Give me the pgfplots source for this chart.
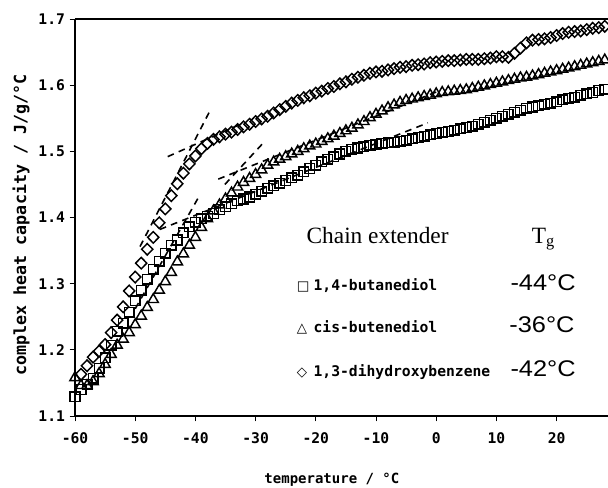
\documentclass[border=0pt]{standalone}
\usepackage{fontspec}
\setmainfont{Liberation Serif}
\setsansfont{Liberation Sans}
\setmonofont{DejaVu Sans Mono}
\newfontfamily\symfont{DejaVu Sans}
\usepackage{pgfplots}
\usepackage{pgfplotstable}
\pgfplotsset{compat=1.18}

% complex heat capacity (J/g/°C) versus temperature (°C)
\pgfplotstableread{
T C
-60 1.129
-59 1.140
-58 1.148
-57 1.157
-56 1.172
-55 1.188
-54 1.207
-53 1.228
-52 1.240
-51 1.257
-50 1.274
-49 1.290
-48 1.307
-47 1.322
-46 1.334
-45 1.346
-44 1.358
-43 1.366
-42 1.377
-41 1.386
-40 1.393
-39 1.398
-38 1.402
-37 1.406
-36 1.412
-35 1.416
-34 1.421
-33 1.425
-32 1.428
-31 1.431
-30 1.435
-29 1.440
-28 1.444
-27 1.448
-26 1.452
-25 1.456
-24 1.460
-23 1.464
-22 1.469
-21 1.474
-20 1.479
-19 1.484
-18 1.488
-17 1.492
-16 1.496
-15 1.500
-14 1.503
-13 1.505
-12 1.507
-11 1.509
-10 1.511
-9 1.512
-8 1.513
-7 1.514
-6 1.515
-5 1.517
-4 1.519
-3 1.521
-2 1.523
-1 1.525
0 1.527
1 1.529
2 1.530
3 1.532
4 1.534
5 1.536
6 1.538
7 1.541
8 1.544
9 1.547
10 1.550
11 1.553
12 1.556
13 1.559
14 1.562
15 1.565
16 1.567
17 1.569
18 1.571
19 1.573
20 1.575
21 1.578
22 1.580
23 1.582
24 1.585
25 1.587
26 1.589
27 1.592
28 1.594
}\butanediol

\pgfplotstableread{
T C
-60 1.158
-59 1.146
-58 1.146
-57 1.152
-56 1.164
-55 1.178
-54 1.193
-53 1.207
-52 1.216
-51 1.226
-50 1.238
-49 1.251
-48 1.264
-47 1.276
-46 1.290
-45 1.303
-44 1.317
-43 1.333
-42 1.345
-41 1.358
-40 1.370
-39 1.385
-38 1.398
-37 1.410
-36 1.419
-35 1.428
-34 1.437
-33 1.446
-32 1.453
-31 1.459
-30 1.465
-29 1.472
-28 1.479
-27 1.484
-26 1.488
-25 1.492
-24 1.496
-23 1.500
-22 1.504
-21 1.508
-20 1.511
-19 1.515
-18 1.519
-17 1.523
-16 1.527
-15 1.531
-14 1.535
-13 1.540
-12 1.545
-11 1.551
-10 1.556
-9 1.561
-8 1.566
-7 1.570
-6 1.574
-5 1.577
-4 1.579
-3 1.581
-2 1.583
-1 1.585
0 1.587
1 1.589
2 1.590
3 1.591
4 1.592
5 1.593
6 1.595
7 1.597
8 1.599
9 1.601
10 1.603
11 1.605
12 1.607
13 1.609
14 1.611
15 1.612
16 1.614
17 1.616
18 1.618
19 1.620
20 1.622
21 1.624
22 1.626
23 1.628
24 1.630
25 1.632
26 1.634
27 1.636
28 1.638
}\butenediol

\pgfplotstableread{
T C
-59 1.163
-58 1.176
-57 1.189
-56 1.198
-55 1.208
-54 1.226
-53 1.245
-52 1.265
-51 1.289
-50 1.310
-49 1.331
-48 1.352
-47 1.370
-46 1.392
-45 1.413
-44 1.433
-43 1.451
-42 1.467
-41 1.481
-40 1.493
-39 1.504
-38 1.512
-37 1.518
-36 1.522
-35 1.526
-34 1.529
-33 1.533
-32 1.537
-31 1.541
-30 1.545
-29 1.549
-28 1.553
-27 1.558
-26 1.563
-25 1.568
-24 1.573
-23 1.577
-22 1.581
-21 1.584
-20 1.588
-19 1.591
-18 1.595
-17 1.598
-16 1.602
-15 1.605
-14 1.609
-13 1.612
-12 1.615
-11 1.618
-10 1.620
-9 1.621
-8 1.623
-7 1.625
-6 1.627
-5 1.628
-4 1.630
-3 1.631
-2 1.632
-1 1.634
0 1.635
1 1.636
2 1.637
3 1.637
4 1.638
5 1.639
6 1.639
7 1.639
8 1.640
9 1.641
10 1.643
11 1.643
12 1.642
13 1.648
14 1.656
15 1.664
16 1.668
17 1.669
18 1.670
19 1.672
20 1.675
21 1.678
22 1.680
23 1.681
24 1.682
25 1.684
26 1.686
27 1.687
28 1.689
}\dihydroxybenzene

\begin{document}
\begin{tikzpicture}
\path[use as bounding box] (-56.25pt,-53.25pt) rectangle (399.75pt,312pt);
\begin{axis}[
  at={(0,0)}, anchor=south west,
  scale only axis, width=399.75pt, height=297.75pt,
  xmin=-60, xmax=28.54, ymin=1.1, ymax=1.7,
  clip=false,
  axis line style={draw=none},
  xtick={-60,-50,...,20}, ytick={1.1,1.2,...,1.71},
  xtick pos=bottom, ytick pos=left,
  tick align=outside, major tick length=4pt,
  tick style={black, line width=0.7pt},
  /pgf/number format/assume math mode=true,
  ticklabel style={font=\fontsize{11}{13}\selectfont\ttfamily\bfseries},
  yticklabel style={/pgf/number format/fixed, /pgf/number format/precision=1,
    /pgf/number format/fixed zerofill},
  xticklabel style={yshift=-5pt},
  xlabel={temperature / °C},
  ylabel={complex heat capacity / J/g/°C},
  xlabel style={at={(axis description cs:0.482,0)}, anchor=center, yshift=-48pt,
    font=\fontsize{10.5}{13}\selectfont\ttfamily\bfseries},
  ylabel style={at={(axis description cs:-0.1013,0.481)}, anchor=center,
    font=\fontsize{12.5}{15}\selectfont\ttfamily\bfseries},
]
% frame: thin left spine, heavy bottom and top
\draw[line width=0.9pt] (rel axis cs:0,1) -- (rel axis cs:0,0);
\draw[line width=1.6pt] (rel axis cs:0,0) -- (rel axis cs:1,0);
\draw[line width=1.6pt] (rel axis cs:0,1) -- (rel axis cs:1,1);

% measured curves
\addplot[only marks, mark=square, mark size=3.6pt, mark options={line width=1.1pt, black}] table {\butanediol};
\addplot[only marks, mark=triangle, mark size=4.4pt, mark options={line width=1.1pt, black}] table {\butenediol};
\addplot[only marks, mark=diamond, mark size=4.3pt, mark options={line width=1.1pt, black, xscale=1.3}] table {\dihydroxybenzene};

% tangent constructions for Tg
\pgfplotsset{tangent/.style={black, line width=1.2pt, dash pattern=on 5pt off 4pt}}
\addplot[tangent] coordinates {(-49.2,1.356) (-37.6,1.561)};
\addplot[tangent] coordinates {(-44.6,1.492) (-32,1.543)};
\addplot[tangent] coordinates {(-35.1,1.450) (-28.9,1.511)};
\addplot[tangent] coordinates {(-36.2,1.458) (0.1,1.590)};
\addplot[tangent] coordinates {(-50,1.262) (-39.2,1.435)};
\addplot[tangent] coordinates {(-45.9,1.382) (-1.4,1.543)};

% key
\node[anchor=base west, font=\fontsize{17.5}{19}\selectfont] at (axis cs:-22.3,1.361) {Chain extender};
\node[anchor=base west, font=\fontsize{17.5}{19}\selectfont] at (axis cs:15.1,1.361) {T\textsubscript{g}};
\node[anchor=base west, inner sep=0pt, font=\fontsize{10}{11}\selectfont\symfont] at (axis cs:-23.2,1.2904) {□};
\node[anchor=base west, inner sep=0pt, font=\fontsize{10}{11}\selectfont\symfont] at (axis cs:-23.2,1.2259) {△};
\node[anchor=base west, inner sep=0pt, font=\fontsize{10}{11}\selectfont\symfont] at (axis cs:-23.2,1.1594) {◇};
\node[anchor=base west, inner sep=0pt, font=\fontsize{11}{13}\selectfont\ttfamily\bfseries] at (axis cs:-20.4,1.2904) {1,4-butanediol};
\node[anchor=base west, inner sep=0pt, font=\fontsize{11}{13}\selectfont\ttfamily\bfseries] at (axis cs:-20.4,1.2259) {cis-butenediol};
\node[anchor=base west, inner sep=0pt, font=\fontsize{11}{13}\selectfont\ttfamily\bfseries] at (axis cs:-20.4,1.1594) {1,3-dihydroxybenzene};
\node[anchor=base west, inner sep=0pt, xscale=1.12, font=\fontsize{17}{19}\selectfont\sffamily] at (axis cs:12.3,1.2904) {-44°C};
\node[anchor=base west, inner sep=0pt, xscale=1.12, font=\fontsize{17}{19}\selectfont\sffamily] at (axis cs:12.1,1.2259) {-36°C};
\node[anchor=base west, inner sep=0pt, xscale=1.12, font=\fontsize{17}{19}\selectfont\sffamily] at (axis cs:12.3,1.1594) {-42°C};
\end{axis}
\end{tikzpicture}
\end{document}
